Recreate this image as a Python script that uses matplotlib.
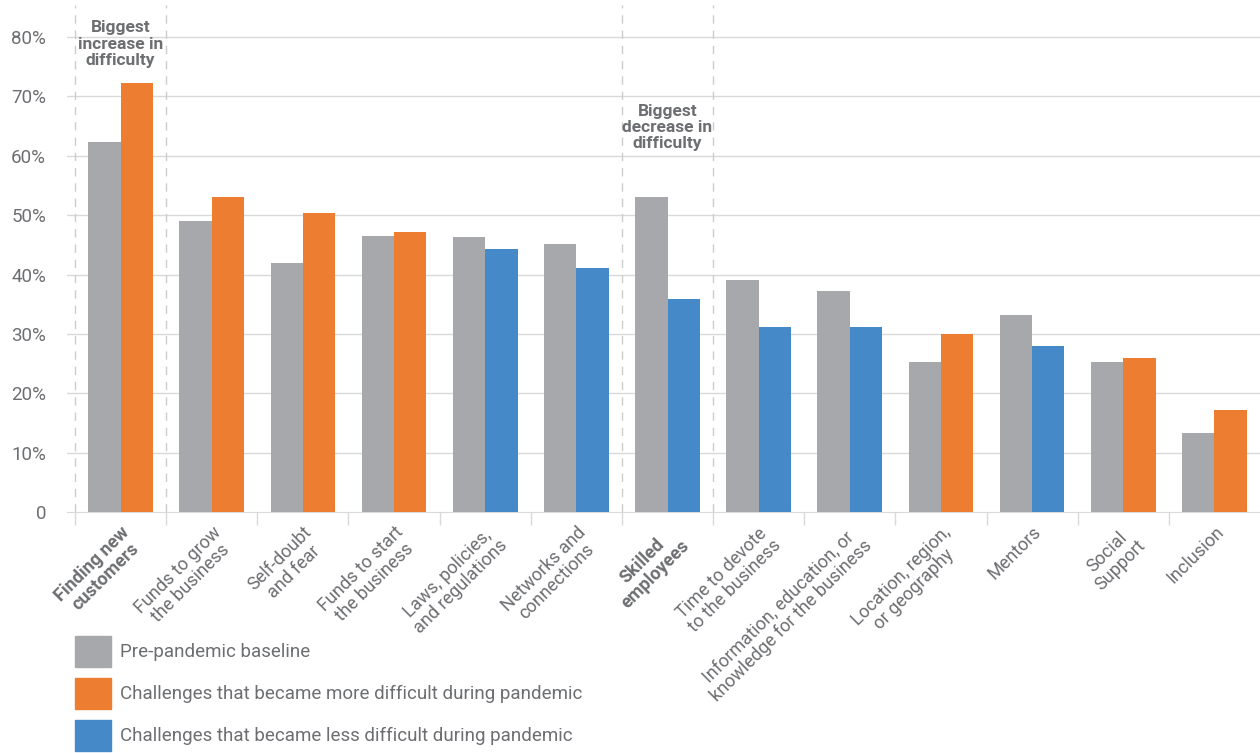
import matplotlib

matplotlib.use("AGG")
import numpy as np
import matplotlib.pyplot as plt
from matplotlib.patches import Patch

plt.rcParams["font.family"] = ["Roboto", "DejaVu Sans"]

categories = [
    "Finding new\ncustomers",
    "Funds to grow\nthe business",
    "Self-doubt\nand fear",
    "Funds to start\nthe business",
    "Laws, policies,\nand regulations",
    "Networks and\nconnections",
    "Skilled\nemployees",
    "Time to devote\nto the business",
    "Information, education, or\nknowledge for the business",
    "Location, region,\nor geography",
    "Mentors",
    "Social\nSupport",
    "Inclusion",
]
baseline = [62.3, 49.0, 41.9, 46.5, 46.3, 45.1, 53.0, 39.1, 37.2, 25.3, 33.2, 25.3, 13.3]
pandemic = [72.2, 53.0, 50.3, 47.1, 44.3, 41.1, 35.9, 31.1, 31.1, 30.0, 27.9, 25.9, 17.2]
bold_labels = ["Finding new\ncustomers", "Skilled\nemployees"]
yticks = [0, 10, 20, 30, 40, 50, 60, 70, 80]
ytick_labels = ["0", "10%", "20%", "30%", "40%", "50%", "60%", "70%", "80%"]
legend_labels = [
    "Pre-pandemic baseline",
    "Challenges that became more difficult during pandemic",
    "Challenges that became less difficult during pandemic",
]

gray = "#a7a8ac"
orange = "#ed7d31"
blue = "#4589c8"
text_col = "#6d6e71"
grid_col = "#d9d9d9"

fig = plt.figure(figsize=(12.6, 7.53), dpi=100)
ax = fig.add_axes([67 / 1260, 1 - 512 / 753, 1 - 67 / 1260, (512 - 5) / 753])

x = np.arange(len(categories))
w = 0.355
ax.bar(x - w / 2, baseline, w, color=gray, zorder=3)
colors = [orange if p > b else blue for b, p in zip(baseline, pandemic)]
ax.bar(x + w / 2, pandemic, w, color=colors, zorder=3)

ax.set_xlim(-0.5 - 8 / 91.15, len(categories) - 0.5)
ax.set_ylim(0, 85.4)
ax.set_yticks(yticks)
ax.set_yticklabels(ytick_labels, fontsize=13.5, color=text_col)
for y in yticks[1:]:
    ax.axhline(y, color=grid_col, lw=1, zorder=1)

for s in ["top", "right", "left"]:
    ax.spines[s].set_visible(False)
ax.spines["bottom"].set_color(grid_col)
ax.tick_params(axis="y", length=0, pad=15)

# category labels at centers, tick marks at boundaries
ax.set_xticks(x)
ax.set_xticklabels(categories, rotation=45, ha="right", va="top",
                   rotation_mode="anchor", fontsize=13, color=text_col,
                   multialignment="center", linespacing=1.05)
for lbl in ax.get_xticklabels():
    if lbl.get_text() in bold_labels:
        lbl.set_fontweight("bold")
ax.tick_params(axis="x", which="major", length=0, pad=8)
ax.set_xticks(np.arange(len(categories)) - 0.5, minor=True)
ax.tick_params(axis="x", which="minor", length=9, color=grid_col, width=1)

# dashed highlight boxes
for xb in [-0.5, 0.5, 5.5, 6.5]:
    ax.plot([xb, xb], [0, 85.4], color="#cccccc", lw=1, ls=(0, (6, 5)),
            zorder=2, clip_on=False)

ax.text(0, 78.8, "Biggest\nincrease in\ndifficulty", ha="center", va="center",
        fontsize=12.5, fontweight="bold", color=text_col, linespacing=1.1)
ax.text(6, 64.8, "Biggest\ndecrease in\ndifficulty", ha="center", va="center",
        fontsize=12.5, fontweight="bold", color=text_col, linespacing=1.1)

handles = [Patch(color=gray), Patch(color=orange), Patch(color=blue)]
fig.legend(handles, legend_labels, loc="lower left",
           bbox_to_anchor=(58 / 1260, -15 / 753), frameon=False, fontsize=13.5,
           handlelength=1.92, handleheight=2.17, labelspacing=0.59,
           handletextpad=0.48, labelcolor=text_col)

fig.savefig("out.png", dpi=100)
